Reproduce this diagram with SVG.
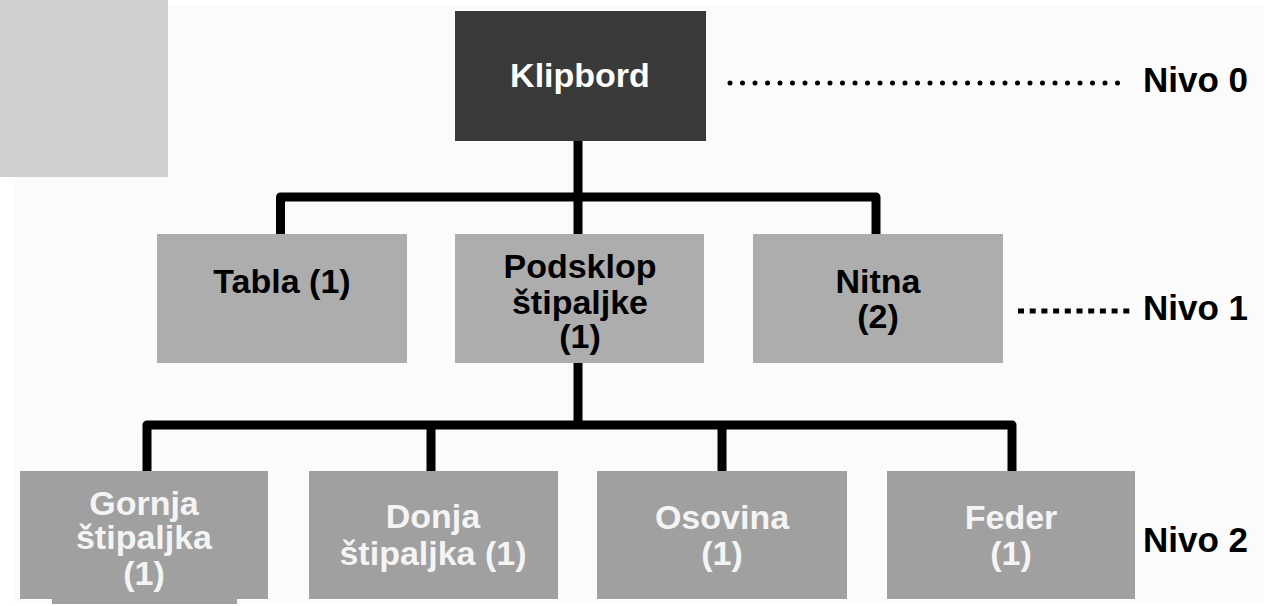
<svg xmlns="http://www.w3.org/2000/svg" width="1281" height="606" viewBox="0 0 1281 606">
<style>
text{font-family:"Liberation Sans",Arial,sans-serif;font-weight:bold;font-size:34px;text-anchor:middle}
.top{fill:#3a3a3a}
.l1{fill:#adadad}
.l2{fill:#a0a0a0}
.tw{fill:#ffffff}
.tb{fill:#000000}
.tl{fill:#f4f4f4}
.lvl{fill:#000000;text-anchor:start;font-size:35px}
.conn{fill:none;stroke:#000;stroke-width:9;stroke-linejoin:round}
</style>
<rect x="0" y="0" width="1281" height="606" fill="#ffffff"/>
<rect x="15" y="6" width="1249" height="598" fill="#fbfbfb"/>
<rect x="0" y="0" width="168" height="177" fill="#d0d0d0"/>
<g id="connectors">
<path class="conn" d="M578 141V197M280.5 234V197H876V234M578 197V234"/>
<path class="conn" d="M578 363V425M147 471V425H1012V471M431 425V471M722 425V471"/>
<line x1="730" y1="83" x2="1120" y2="83" stroke="#000" stroke-width="5" stroke-linecap="round" stroke-dasharray="0 12.5"/>
<line x1="1018" y1="311" x2="1130" y2="311" stroke="#000" stroke-width="5" stroke-dasharray="6 5.7"/>
</g>
<g id="klipbord"><rect class="top" x="455" y="11" width="251" height="130"/><text class="tw" x="580" y="87" font-size="35">Klipbord</text></g>
<g id="tabla"><rect class="l1" x="157" y="234" width="250" height="129"/><text class="tb" x="282" y="293">Tabla (1)</text></g>
<g id="podsklop"><rect class="l1" x="455" y="234" width="249" height="129"/><text class="tb" x="580" y="278">Podsklop</text><text class="tb" x="580" y="314">štipaljke</text><text class="tb" x="580" y="348">(1)</text></g>
<g id="nitna"><rect class="l1" x="753" y="234" width="250" height="129"/><text class="tb" x="878" y="293">Nitna</text><text class="tb" x="878" y="328">(2)</text></g>
<g id="gornja"><rect class="l2" x="20" y="471" width="248" height="128"/><rect class="l2" x="52" y="598" width="185" height="6"/><text class="tl" x="144" y="515">Gornja</text><text class="tl" x="144" y="549">štipaljka</text><text class="tl" x="144" y="585">(1)</text></g>
<g id="donja"><rect class="l2" x="309" y="471" width="249" height="128"/><text class="tl" x="433" y="528">Donja</text><text class="tl" x="433" y="565">štipaljka (1)</text></g>
<g id="osovina"><rect class="l2" x="597" y="471" width="250" height="128"/><text class="tl" x="722" y="529">Osovina</text><text class="tl" x="722" y="565">(1)</text></g>
<g id="feder"><rect class="l2" x="887" y="471" width="248" height="128"/><text class="tl" x="1011" y="529">Feder</text><text class="tl" x="1011" y="565">(1)</text></g>
<g id="levels"><text class="lvl" x="1143" y="92">Nivo 0</text><text class="lvl" x="1143" y="320">Nivo 1</text><text class="lvl" x="1143" y="552">Nivo 2</text></g>
</svg>
